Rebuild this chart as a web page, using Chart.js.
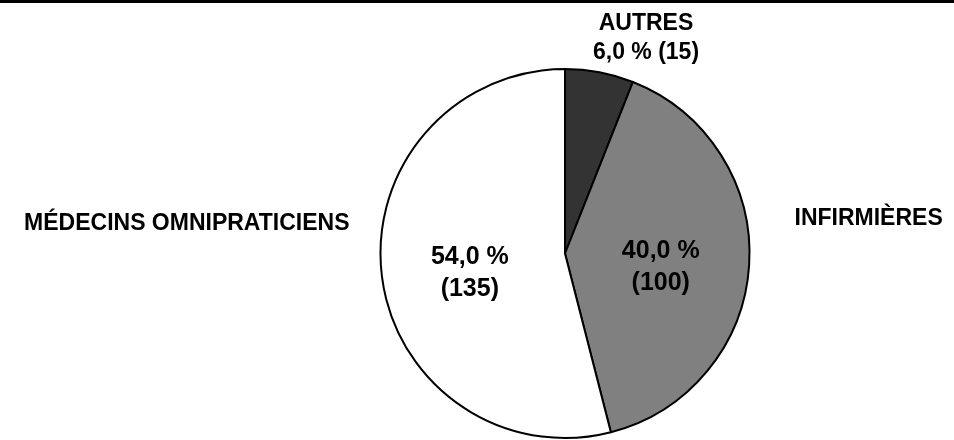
<!DOCTYPE html>
<html>
<head>
<meta charset="utf-8">
<script src="https://cdn.jsdelivr.net/npm/chart.js@4/dist/chart.umd.min.js"></script>
<style>
    html, body { margin: 0; padding: 0; background: #fff; }
    #wrap { width: 954px; height: 440px; position: relative; }
</style>
</head>
<body>
<div id="wrap"><canvas id="pieChart" width="954" height="440"></canvas></div>
<script>
// Data
const categories = ["AUTRES", "INFIRMIÈRES", "MÉDECINS OMNIPRATICIENS"];
const counts = [15, 100, 135];
const percents = ["6,0 %", "40,0 %", "54,0 %"];
const sliceColors = ["#333333", "#808080", "#ffffff"];

const FONT = "bold 23px 'Liberation Sans', Arial, sans-serif";
const FONT_IN = "bold 25px 'Liberation Sans', Arial, sans-serif";

// draws the top rule, the outer category names and the inner value labels
const labelPlugin = {
    id: 'pieLabels',
    afterDatasetsDraw(chart) {
        const ctx = chart.ctx;
        const arcs = chart.getDatasetMeta(0).data;
        const cx = arcs[0].x, cy = arcs[0].y, r = arcs[0].outerRadius;

        ctx.save();
        // top rule
        ctx.fillStyle = '#000';
        ctx.fillRect(0, 0, chart.width, 3);

        ctx.fillStyle = '#000';
        ctx.textBaseline = 'middle';

        // small slice: name + value above the pie
        ctx.font = FONT;
        ctx.textAlign = 'center';
        ctx.fillText(categories[0], cx + 81, cy - r - 45);
        ctx.fillText(`${percents[0]} (${counts[0]})`, cx + 81, cy - r - 16);

        // right name
        ctx.textAlign = 'left';
        ctx.fillText(categories[1], cx + r + 45, cy - 35);

        // left name
        ctx.textAlign = 'right';
        ctx.fillText(categories[2], cx - r - 31, cy - 30);

        // inner value labels for the two big slices
        ctx.font = FONT_IN;
        ctx.textAlign = 'center';
        [1, 2].forEach(i => {
            const a = arcs[i];
            const mid = (a.startAngle + a.endAngle) / 2;
            const x = cx + Math.cos(mid) * r * 0.52;
            const y = cy + Math.sin(mid) * r * 0.52 + 8;
            ctx.fillText(percents[i], x, y - 16);
            ctx.fillText(`(${counts[i]})`, x, y + 16);
        });
        ctx.restore();
    }
};

new Chart(document.getElementById('pieChart'), {
    type: 'pie',
    data: {
        labels: categories,
        datasets: [{
            data: counts,
            backgroundColor: sliceColors,
            borderColor: '#000000',
            borderWidth: 2,
            borderAlign: 'center'
        }]
    },
    options: {
        responsive: false,
        animation: false,
        layout: { padding: { left: 379, right: 203, top: 68, bottom: 1 } },
        plugins: {
            legend: { display: false },
            tooltip: { enabled: false }
        }
    },
    plugins: [labelPlugin]
});
</script>
</body>
</html>
